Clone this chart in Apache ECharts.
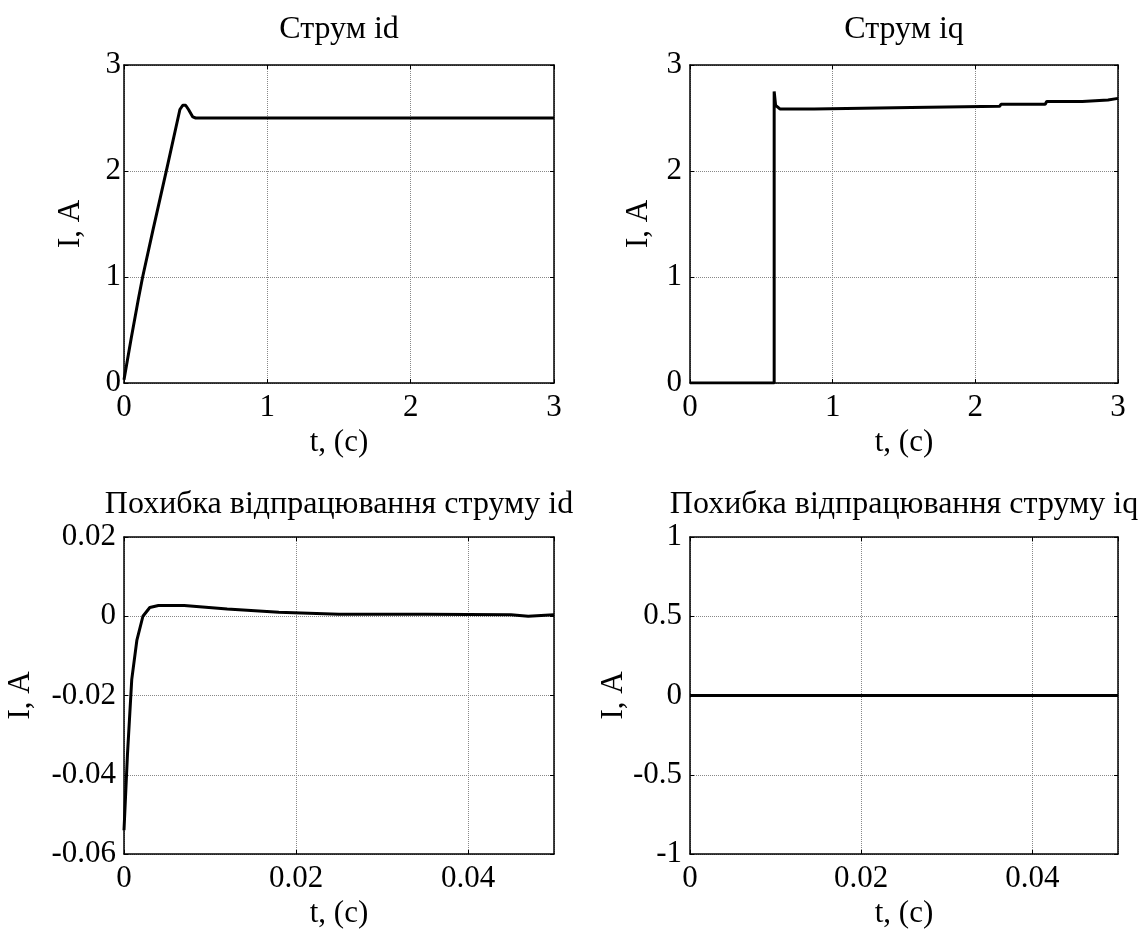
<!DOCTYPE html>
<html>
<head>
<meta charset="utf-8">
<script src="https://cdn.jsdelivr.net/npm/echarts@6/dist/echarts.min.js"></script>
<style>
html, body { margin: 0; padding: 0; background: #fff; }
#main { width: 1140px; height: 930px; }
</style>
</head>
<body>
<div id="main"></div>
<script>
// Струм id
var idT = [0, 0.05, 0.1, 0.13, 0.2, 0.3, 0.39, 0.41, 0.43, 0.45, 0.48, 0.5, 3];
var idI = [0.03, 0.42, 0.79, 1.0, 1.43, 2.03, 2.58, 2.62, 2.62, 2.58, 2.51, 2.5, 2.5];
// Струм iq
var iqT = [0, 0.59, 0.59, 0.6, 0.63, 0.87, 0.88, 1.55, 1.56, 2.17, 2.18, 2.49, 2.5, 2.75, 2.76, 2.93, 2.94, 3];
var iqI = [0, 0, 2.75, 2.62, 2.585, 2.585, 2.6, 2.6, 2.61, 2.61, 2.63, 2.63, 2.655, 2.655, 2.67, 2.67, 2.685, 2.685];
// Похибка id
var errIdT = [0, 0.0004, 0.0009, 0.0015, 0.0022, 0.003, 0.004, 0.007, 0.012, 0.018, 0.025, 0.035, 0.045, 0.047, 0.05];
var errIdV = [-0.054, -0.035, -0.016, -0.006, 0.0, 0.0022, 0.0027, 0.0027, 0.0018, 0.001, 0.0005, 0.0005, 0.0004, 0.0, 0.0004];
// Похибка iq
var errIqT = [0, 0.05];
var errIqV = [0, 0];

var titles = ['Струм id', 'Струм iq', 'Похибка відпрацювання струму id', 'Похибка відпрацювання струму iq'];
var xRanges = [[0, 3, 1], [0, 3, 1], [0, 0.05, 0.02], [0, 0.05, 0.02]];
var yRanges = [[0, 3, 1], [0, 3, 1], [-0.06, 0.02, 0.02], [-1, 1, 0.5]];
var xName = 't, (c)';
var yName = 'I, A';

var FONT = '"Liberation Serif", "Times New Roman", serif';
var grids = [
    { left: 124, top: 65, width: 430, height: 318 },
    { left: 690, top: 65, width: 428, height: 318 },
    { left: 124, top: 537, width: 430, height: 320 },
    { left: 690, top: 537, width: 428, height: 320 }
];
var yNameGaps = [38, 36, 88, 36];
var yLabelMargins = [3, 8, 8, 8];
var titleTops = [14, 14, 489, 489];

function pairs(xs, ys) {
    var out = [];
    for (var i = 0; i < xs.length; i++) out.push([xs[i], ys[i]]);
    return out;
}

var seriesData = [pairs(idT, idI), pairs(iqT, iqI), pairs(errIdT, errIdV), pairs(errIqT, errIqV)];

var xAxes = [], yAxes = [], series = [], titleList = [];
grids.forEach(function(g, i) {
    var xr = xRanges[i], yr = yRanges[i];
    titleList.push({
        text: titles[i],
        left: g.left + g.width / 2,
        top: titleTops[i],
        textAlign: 'center',
        padding: 0,
        textStyle: { fontFamily: FONT, fontSize: 32, fontWeight: 'normal', color: '#000' }
    });
    // main bottom axis
    xAxes.push({
        type: 'value', gridIndex: i, min: xr[0], max: xr[1], interval: xr[2],
        position: 'bottom',
        name: xName, nameLocation: 'middle', nameGap: 44,
        nameTextStyle: { fontFamily: FONT, fontSize: 31, color: '#000' },
        axisLine: { onZero: false, lineStyle: { color: '#000', width: 1.5 } },
        axisTick: { inside: true, length: 4, lineStyle: { color: '#000' } },
        axisLabel: { fontFamily: FONT, fontSize: 31, color: '#000', margin: 9, showMaxLabel: xr[1] % xr[2] === 0 },
        splitLine: { show: true, lineStyle: { color: '#888', type: 'dotted', width: 1 } }
    });
    // top box edge
    xAxes.push({
        type: 'value', gridIndex: i, min: xr[0], max: xr[1], interval: xr[2],
        position: 'top',
        axisLine: { onZero: false, lineStyle: { color: '#000', width: 1.5 } },
        axisTick: { inside: true, length: 4, lineStyle: { color: '#000' } },
        axisLabel: { show: false },
        splitLine: { show: false }
    });
    yAxes.push({
        type: 'value', gridIndex: i, min: yr[0], max: yr[1], interval: yr[2],
        position: 'left',
        name: yName, nameLocation: 'middle', nameGap: yNameGaps[i],
        nameTextStyle: { fontFamily: FONT, fontSize: 31, color: '#000' },
        axisLine: { show: true, onZero: false, lineStyle: { color: '#000', width: 1.5 } },
        axisTick: { show: true, inside: true, length: 4, lineStyle: { color: '#000' } },
        axisLabel: { fontFamily: FONT, fontSize: 31, color: '#000', margin: yLabelMargins[i] },
        splitLine: { show: true, lineStyle: { color: '#888', type: 'dotted', width: 1 } }
    });
    // right box edge
    yAxes.push({
        type: 'value', gridIndex: i, min: yr[0], max: yr[1], interval: yr[2],
        position: 'right',
        axisLine: { show: true, onZero: false, lineStyle: { color: '#000', width: 1.5 } },
        axisTick: { show: true, inside: true, length: 4, lineStyle: { color: '#000' } },
        axisLabel: { show: false },
        splitLine: { show: false }
    });
    series.push({
        type: 'line',
        xAxisIndex: i * 2,
        yAxisIndex: i * 2,
        data: seriesData[i],
        showSymbol: false,
        lineStyle: { color: '#000', width: 3 },
        animation: false
    });
});

var myChart = echarts.init(document.getElementById('main'));
myChart.setOption({
    backgroundColor: '#fff',
    animation: false,
    title: titleList,
    grid: grids,
    xAxis: xAxes,
    yAxis: yAxes,
    series: series
});
</script>
</body>
</html>
